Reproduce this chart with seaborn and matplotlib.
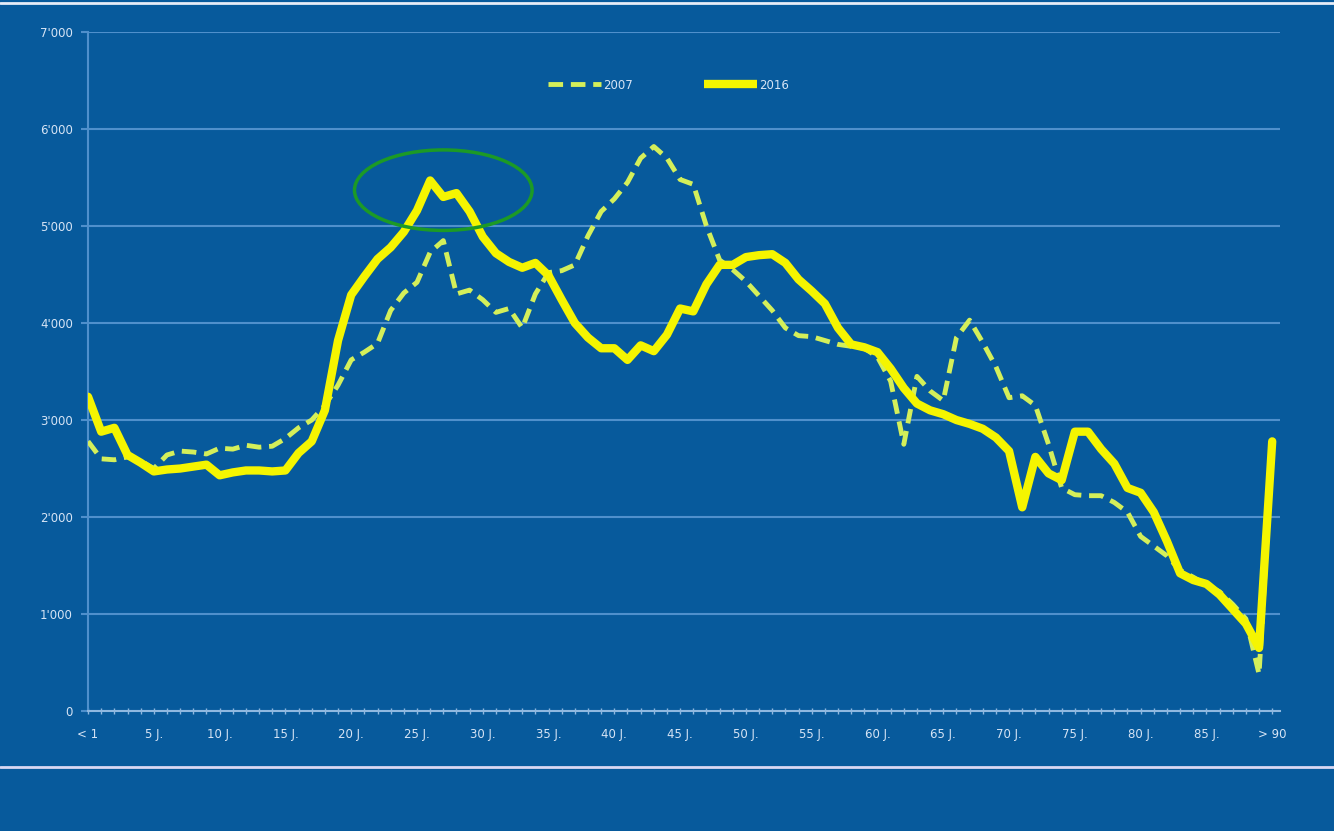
import numpy as np
import pandas as pd
import seaborn as sns
import matplotlib.pyplot as plt
from matplotlib.patches import Ellipse
from matplotlib.lines import Line2D

sns.set_theme(style="dark")

# age classes: "< 1", 1 J. ... 89 J., "> 90"
ages = ["< 1"] + [f"{i} J." for i in range(1, 90)] + ["> 90"]

y2016 = [3240, 2880, 2920, 2640, 2560, 2470, 2490, 2500, 2520, 2540,
         2430, 2460, 2480, 2480, 2470, 2480, 2660, 2780, 3100, 3820,
         4290, 4480, 4660, 4780, 4940, 5160, 5470, 5300, 5340, 5150,
         4890, 4720, 4630, 4570, 4620, 4490, 4240, 4000, 3850, 3740,
         3740, 3620, 3770, 3710, 3880, 4150, 4120, 4400, 4600, 4600,
         4680, 4700, 4710, 4620, 4450, 4330, 4200, 3950, 3780, 3750,
         3700, 3530, 3330, 3170, 3100, 3060, 3000, 2960, 2910, 2820,
         2680, 2100, 2620, 2450, 2380, 2880, 2880, 2700, 2550, 2300,
         2250, 2050, 1750, 1420, 1350, 1310, 1200, 1050, 900, 650,
         2780]

y2007 = [2780, 2600, 2590, 2620, 2580, 2500, 2640, 2680, 2670, 2650,
         2710, 2700, 2740, 2720, 2730, 2810, 2920, 3000, 3150, 3360,
         3620, 3700, 3790, 4130, 4310, 4420, 4730, 4850, 4300, 4340,
         4240, 4110, 4150, 3950, 4300, 4520, 4540, 4600, 4900, 5150,
         5280, 5450, 5700, 5820, 5700, 5480, 5430, 5000, 4650, 4550,
         4430, 4280, 4130, 3950, 3870, 3860, 3820, 3780, 3760, 3740,
         3650, 3400, 2750, 3450, 3300, 3200, 3850, 4030, 3800, 3550,
         3230, 3250, 3150, 2750, 2300, 2230, 2220, 2220, 2150, 2050,
         1800, 1700, 1600, 1450, 1380, 1300, 1230, 1100, 950, 380,
         2700]

tick_pos = [0] + list(range(5, 90, 5)) + [90]
tick_lab = [ages[i] for i in tick_pos]
y_ticks = [0, 1000, 2000, 3000, 4000, 5000, 6000, 7000]
y_labels = ["0", "1'000", "2'000", "3'000", "4'000", "5'000", "6'000", "7'000"]

bg = "#075a9c"
grid_col = "#4f90cc"
txt_col = "#d6e4f5"

df = pd.DataFrame({"idx": np.arange(len(ages)), "2007": y2007, "2016": y2016})

fig = plt.figure(figsize=(13.34, 8.31), dpi=100, facecolor=bg)
ax = fig.add_axes([0.066, 0.1444, 0.8936, 0.817])
ax.set_facecolor(bg)

sns.lineplot(data=df, x="idx", y="2007", ax=ax, color="#d4ef5a", lw=3.5,
             label="2007", zorder=3)
ax.lines[-1].set_dashes([3, 1.6])
sns.lineplot(data=df, x="idx", y="2016", ax=ax, color="#f5f500", lw=6,
             label="2016", zorder=4)
for ln in ax.lines:
    ln.set_solid_capstyle("round")
    ln.set_solid_joinstyle("round")

ax.set_xlim(0, 90.6)
ax.set_ylim(0, 7000)
ax.set_yticks(y_ticks)
ax.set_yticklabels(y_labels)
ax.set_xticks(tick_pos)
ax.set_xticklabels(tick_lab)
ax.set_xticks(range(0, 91), minor=True)
ax.set_xlabel("")
ax.set_ylabel("")

ax.grid(axis="y", color=grid_col, lw=1.5)
ax.grid(axis="x", visible=False)
for s in ["top", "right"]:
    ax.spines[s].set_visible(False)
ax.spines["left"].set_color(grid_col)
ax.spines["left"].set_linewidth(1.5)
ax.spines["bottom"].set_color("#8fb8e0")
ax.spines["bottom"].set_linewidth(1.5)

ax.tick_params(axis="y", colors=txt_col, labelsize=8.5, length=5, width=1.5,
               color=grid_col, left=True, pad=6)
ax.tick_params(axis="x", which="both", colors=txt_col, labelsize=8.5,
               direction="inout", length=5, width=1, color="#8fb8e0",
               bottom=True, pad=10)

ell = Ellipse((27.0, 5370), width=13.5, height=830, fill=False,
              edgecolor="#1c9a26", lw=2.5, zorder=5)
ax.add_patch(ell)

leg = ax.legend(loc="center", bbox_to_anchor=(0.487, 0.922), ncol=2,
                frameon=False, fontsize=8.5, handlelength=4.5,
                columnspacing=6, handletextpad=0.2, labelcolor=txt_col)
for h in leg.get_lines():
    h.set_solid_capstyle("butt")

# frame lines of the slide
fig.add_artist(Line2D([0, 1], [0.9964, 0.9964], color="#e6ecf8", lw=2,
                      transform=fig.transFigure))
fig.add_artist(Line2D([0, 1], [0.077, 0.077], color="#d8d8f4", lw=2,
                      transform=fig.transFigure))

fig.savefig("out.png", dpi=100, facecolor=bg)
